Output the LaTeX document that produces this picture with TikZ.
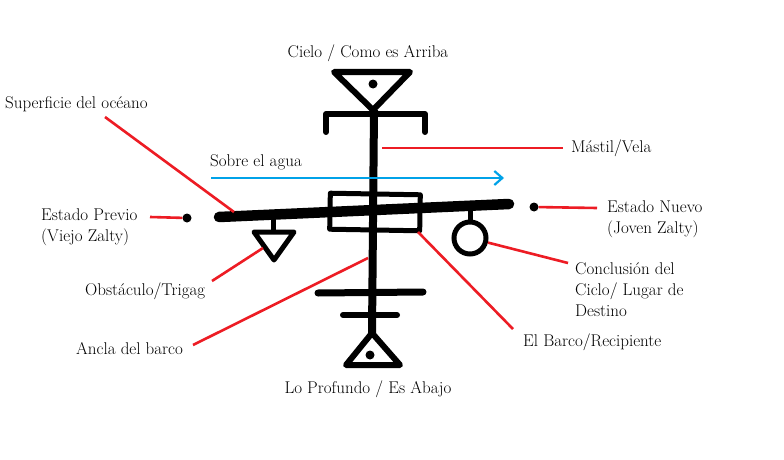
\documentclass[tikz,border=0pt]{standalone}
\usetikzlibrary{arrows.meta}
\definecolor{pred}{RGB}{237,28,36}
\definecolor{pblue}{RGB}{0,162,232}
\begin{document}
\begin{tikzpicture}[x=1pt,y=-1pt,
  sym/.style={line width=6pt, line cap=round, line join=round},
  thin sym/.style={line width=5pt, line join=round},
  redline/.style={draw=pred, line width=2.6pt},
  lbl/.style={inner sep=0pt, align=left, font=\fontsize{17}{21}\selectfont},
  dotn/.style={circle, fill=black, inner sep=0pt, minimum size=9pt}]
\useasboundingbox[fill=white] (0,0) rectangle (784,460);

% --- symbol ---
% mast
\draw[line width=8pt] (374,110) -- (372,333);
% top triangle
\draw[sym] (334,72) -- (410,72) -- (373,110) -- cycle;
\fill (373,84) circle (4.5);
% top crossbar with hooks
\draw[sym] (326,132) -- (326,114) -- (425,114) -- (425,132);
% bottom crossbars
\draw[line width=7pt, line cap=round] (318,293) -- (423,292);
\draw[sym] (343,315) -- (397,315);
% bottom triangle
\draw[sym] (372,333) -- (400,365) -- (346,365) -- cycle;
\fill (370,355) circle (4.5);
% beam
\draw[line width=10.5pt, line cap=round] (219,217) -- (509,204);
% box (vessel)
\node[draw, thin sym, rotate=-1, minimum width=90pt, minimum height=36pt, inner sep=0pt] (barco) at (375,212) {};
% obstacle triangle
\draw[thin sym] (273,216) -- (273,231);
\draw[thin sym] (254,232) -- (294,232) -- (274,260) -- cycle;
% circle
\draw[thin sym] (470,206) -- (470,222);
\node[draw, circle, line width=5pt, minimum size=32pt, inner sep=0pt] (circ) at (470,238) {};
% dots
\node[dotn] (dotL) at (187,218) {};
\node[dotn] (dotR) at (534,207) {};

% --- anchor coordinates ---
\coordinate (mast) at (382,148);
\coordinate (beamL) at (234,212);
\coordinate (obst) at (263,248);
\coordinate (ancla) at (368,258);
\coordinate (boxc) at (418,232);
\coordinate (bstart) at (211,178);
\coordinate (bend) at (504,178);

% --- labels ---
\node[lbl, anchor=center] (cielo) at (368,53) {Cielo / Como es Arriba};
\node[lbl, anchor=center] (abajo) at (368,389) {Lo Profundo / Es Abajo};
\node[lbl, anchor=west] (sup) at (5,104) {Superficie del océano};
\node[lbl, anchor=west] (sobre) at (210,162) {Sobre el agua};
\node[lbl, anchor=west] (mastil) at (571,148) {Mástil/Vela};
\node[lbl, anchor=west] (previo) at (41,227) {Estado Previo\\(Viejo Zalty)};
\node[lbl, anchor=west] (nuevo) at (607,219) {Estado Nuevo\\(Joven Zalty)};
\node[lbl, anchor=west] (concl) at (575,290) {Conclusión del\\Ciclo/ Lugar de\\Destino};
\node[lbl, anchor=west] (obsl) at (85,291) {Obstáculo/Trigag};
\node[lbl, anchor=west] (ancl) at (76,349) {Ancla del barco};
\node[lbl, anchor=west] (barl) at (523,342) {El Barco/Recipiente};

% --- connectors ---
\draw[redline] (mast) -- (563,148);
\draw[redline] (105,117) -- (beamL);
\draw[redline] (150,217) -- (dotL);
\draw[redline] (dotR) -- (597,208);
\draw[redline] (circ) -- (568,263);
\draw[redline] (boxc) -- (513,329);
\draw[redline] (212,281) -- (obst);
\draw[redline] (193,345) -- (ancla);
\draw[draw=pblue, line width=2.6pt, -{Straight Barb[length=8pt,width=14pt,line width=2.2pt]}] (bstart) -- (bend);
\end{tikzpicture}
\end{document}
